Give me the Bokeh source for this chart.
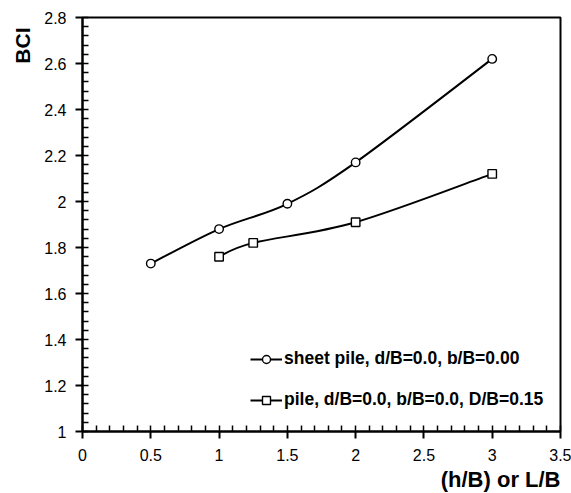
from bokeh.plotting import figure
from bokeh.models import (Range1d, SingleIntervalTicker, CustomJSTickFormatter,
                          Legend, LegendItem, Title, ColumnDataSource)
from bokeh.embed import file_html
from bokeh.resources import INLINE

# ---- data ----
sheet_x = [0.5, 1.0, 1.5, 2.0, 3.0]
sheet_y = [1.73, 1.88, 1.99, 2.17, 2.62]
pile_x = [1.0, 1.25, 2.0, 3.0]
pile_y = [1.76, 1.82, 1.91, 2.12]
sheet_label = "sheet pile, d/B=0.0, b/B=0.00"
pile_label = "pile, d/B=0.0, b/B=0.0, D/B=0.15"
x_title = "(h/B) or L/B"
y_title = "BCI"

FONT = "Liberation Sans"


def smooth_segments(xs, ys):
    """Catmull-Rom style bezier segments through the data points (rendering only)."""
    n = len(xs)
    d = dict(x0=[], y0=[], x1=[], y1=[], cx0=[], cy0=[], cx1=[], cy1=[])
    for i in range(n - 1):
        a = max(i - 1, 0)
        b = min(i + 2, n - 1)
        d["x0"].append(xs[i]); d["y0"].append(ys[i])
        d["x1"].append(xs[i + 1]); d["y1"].append(ys[i + 1])
        d["cx0"].append(xs[i] + (xs[i + 1] - xs[a]) / 6.0)
        d["cy0"].append(ys[i] + (ys[i + 1] - ys[a]) / 6.0)
        d["cx1"].append(xs[i + 1] - (xs[b] - xs[i]) / 6.0)
        d["cy1"].append(ys[i + 1] - (ys[b] - ys[i]) / 6.0)
    return ColumnDataSource(d)


p = figure(width=571, height=493, output_backend="svg", toolbar_location=None,
           x_range=Range1d(0, 3.5000001), y_range=Range1d(1, 2.8000001),
           min_border_left=80, min_border_right=11, min_border_top=17, min_border_bottom=60)

p.xgrid.visible = False
p.ygrid.visible = False
p.outline_line_color = "black"
p.outline_line_width = 2
p.background_fill_color = "white"
p.border_fill_color = "white"

fmt = CustomJSTickFormatter(code="return String(Number(tick.toFixed(2)));")
p.xaxis.ticker = SingleIntervalTicker(interval=0.5, num_minor_ticks=5)
p.yaxis.ticker = SingleIntervalTicker(interval=0.2, num_minor_ticks=5)
for ax in (p.xaxis[0], p.yaxis[0]):
    ax.formatter = fmt
    ax.axis_line_color = "black"
    ax.axis_line_width = 2
    ax.major_tick_line_color = "black"
    ax.major_tick_line_width = 2
    ax.minor_tick_line_color = "black"
    ax.minor_tick_line_width = 1.5
    ax.major_tick_out = 7
    ax.major_tick_in = 0
    ax.minor_tick_out = 0
    ax.minor_tick_in = 6
    ax.major_label_text_font = FONT
    ax.major_label_text_font_size = "16px"
    ax.major_label_text_color = "black"
p.xaxis[0].major_label_standoff = 10
p.yaxis[0].major_label_standoff = 9

s1 = smooth_segments(sheet_x, sheet_y)
s2 = smooth_segments(pile_x, pile_y)
b1 = p.bezier(x0="x0", y0="y0", x1="x1", y1="y1", cx0="cx0", cy0="cy0",
              cx1="cx1", cy1="cy1", source=s1, line_color="black", line_width=2)
b2 = p.bezier(x0="x0", y0="y0", x1="x1", y1="y1", cx0="cx0", cy0="cy0",
              cx1="cx1", cy1="cy1", source=s2, line_color="black", line_width=2)
m1 = p.scatter(sheet_x, sheet_y, marker="circle", size=8.5, fill_color="white",
               line_color="black", line_width=1.4)
m2 = p.scatter(pile_x, pile_y, marker="square", size=8.5, fill_color="white",
               line_color="black", line_width=1.4)

legend = Legend(items=[LegendItem(label=sheet_label, renderers=[b1, m1]),
                       LegendItem(label=pile_label, renderers=[b2, m2])],
                location=(168, 21), orientation="vertical",
                glyph_width=32, glyph_height=20, label_height=20, spacing=20,
                label_standoff=2, padding=0, margin=0,
                label_text_font=FONT, label_text_font_size="17.5px",
                label_text_font_style="bold", label_text_color="black",
                border_line_color=None, background_fill_alpha=0)
p.add_layout(legend, "center")

p.add_layout(Title(text=x_title, align="right", text_font=FONT, text_font_size="22px",
                   text_font_style="bold", text_color="black", standoff=3), "below")
p.add_layout(Title(text=y_title, align="right", text_font=FONT, text_font_size="21px",
                   text_font_style="bold", text_color="black", offset=10, standoff=16), "left")

open("out.html", "w").write(file_html(p, INLINE))
